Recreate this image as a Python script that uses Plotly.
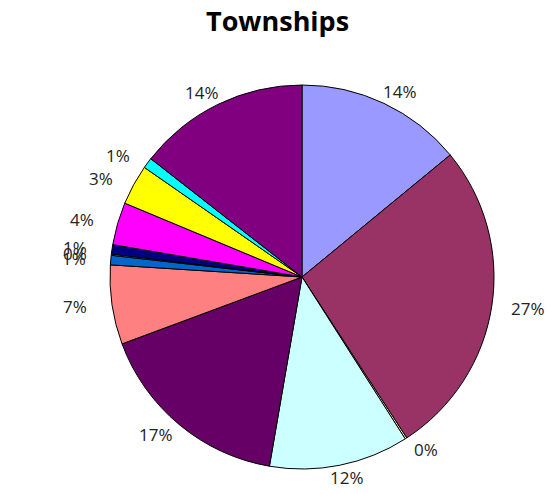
import math
import plotly.graph_objects as go

labels = ["Cat 1", "Cat 2", "Cat 3", "Cat 4", "Cat 5", "Cat 6", "Cat 7",
          "Cat 8", "Cat 9", "Cat 10", "Cat 11", "Cat 12", "Cat 13"]
values = [14.1, 26.9, 0.15, 11.8, 16.7, 6.7, 0.8, 0.1, 0.8, 3.6, 3.4, 0.9, 14.5]
colors = ["#9999FF", "#993366", "#FFFFCC", "#CCFFFF", "#660066", "#FF8080", "#0066CC",
          "#CCCCFF", "#000080", "#FF00FF", "#FFFF00", "#00FFFF", "#800080"]
title_text = "Townships"

W, H = 551, 494
cx, cy, r = 302, 277, 192
label_rx, label_ry = 229, 205  # distance of label centres from the pie centre

fig = go.Figure(go.Pie(
    labels=labels,
    values=values,
    sort=False,
    direction="clockwise",
    rotation=0,
    marker=dict(colors=colors, line=dict(color="black", width=1)),
    textinfo="none",
    showlegend=False,
    automargin=False,
    domain=dict(x=[(cx - r) / W, (cx + r) / W], y=[(H - cy - r) / H, (H - cy + r) / H]),
    hoverinfo="none",
))

# percentage labels placed outside each slice, at the slice's mid angle
total = sum(values)
cum = 0.0
annotations = []
for v in values:
    mid = (cum + v / 2) / total * 2 * math.pi
    cum += v
    px = cx + label_rx * math.sin(mid)
    py = cy - label_ry * math.cos(mid)
    annotations.append(dict(
        text=f"{round(v / total * 100)}%",
        x=px / W, y=1 - py / H, xref="paper", yref="paper",
        xanchor="center", yanchor="middle", showarrow=False,
        font=dict(family="Open Sans, sans-serif", size=17, color="#222222"),
    ))

annotations.append(dict(
    text=f"<b>{title_text}</b>", x=0.503, y=1, xref="paper", yref="paper",
    xanchor="center", yanchor="top", showarrow=False,
    font=dict(family="Open Sans, sans-serif", size=27, color="black"),
))

fig.update_layout(
    width=W, height=H,
    margin=dict(l=0, r=0, t=0, b=0),
    paper_bgcolor="white",
    annotations=annotations,
)

fig.write_html("out.html")
